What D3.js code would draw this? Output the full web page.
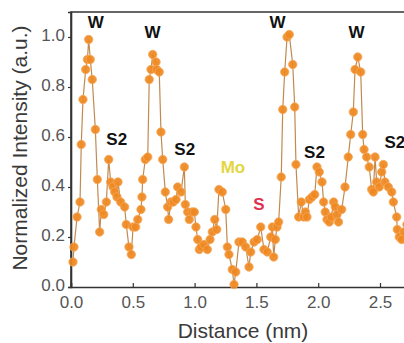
<!DOCTYPE html>
<html>
<head>
<meta charset="utf-8">
<script src="https://cdn.jsdelivr.net/npm/d3@7"></script>
<style>
  body { margin: 0; background: #fff; }
  svg { display: block; font-family: Arial, "Liberation Sans", sans-serif; }
</style>
</head>
<body>
<svg id="chart" width="404" height="343"></svg>
<script>
// line profile
var distance = [
  0.016, 0.024, 0.049, 0.073, 0.083, 0.097, 0.119, 0.133, 0.143, 0.156,
  0.172, 0.197, 0.213, 0.232, 0.245, 0.265, 0.286, 0.305, 0.321, 0.340,
  0.354, 0.372, 0.380, 0.402, 0.434, 0.447, 0.469, 0.488, 0.502, 0.523,
  0.540, 0.566, 0.574, 0.580, 0.601, 0.621, 0.633, 0.647, 0.661, 0.688,
  0.693, 0.714, 0.728, 0.742, 0.763, 0.782, 0.790, 0.809, 0.828, 0.850,
  0.863, 0.890, 0.917, 0.925, 0.944, 0.957, 0.979, 0.998, 1.011, 1.025,
  1.038, 1.052, 1.076, 1.103, 1.125, 1.143, 1.163, 1.179, 1.197, 1.224,
  1.252, 1.265, 1.278, 1.305, 1.319, 1.333, 1.359, 1.386, 1.413, 1.440,
  1.454, 1.481, 1.507, 1.535, 1.561, 1.588, 1.616, 1.629, 1.640, 1.653,
  1.667, 1.680, 1.701, 1.713, 1.729, 1.748, 1.766, 1.794, 1.810, 1.820,
  1.842, 1.863, 1.883, 1.896, 1.909, 1.928, 1.950, 1.972, 1.990, 2.009,
  2.031, 2.044, 2.057, 2.071, 2.090, 2.106, 2.125, 2.138, 2.152, 2.164,
  2.190, 2.217, 2.243, 2.263, 2.284, 2.298, 2.320, 2.344, 2.360, 2.371,
  2.392, 2.413, 2.433, 2.446, 2.460, 2.473, 2.494, 2.514, 2.527, 2.540,
  2.567, 2.595, 2.608, 2.635, 2.640, 2.656, 2.676, 2.694, 2.718
];
var intensity = [
  0.10, 0.16, 0.28, 0.34, 0.57, 0.75, 0.87, 0.91, 0.99, 0.91,
  0.83, 0.63, 0.43, 0.22, 0.31, 0.29, 0.34, 0.51, 0.42, 0.40,
  0.38, 0.36, 0.42, 0.34, 0.32, 0.25, 0.16, 0.13, 0.24, 0.24,
  0.27, 0.31, 0.36, 0.43, 0.51, 0.52, 0.83, 0.87, 0.93, 0.90,
  0.87, 0.86, 0.62, 0.51, 0.38, 0.32, 0.27, 0.34, 0.34, 0.35,
  0.40, 0.38, 0.48, 0.33, 0.30, 0.27, 0.30, 0.30, 0.24, 0.19,
  0.15, 0.16, 0.17, 0.15, 0.19, 0.22, 0.27, 0.23, 0.39, 0.38,
  0.31, 0.16, 0.13, 0.07, 0.01, 0.06, 0.18, 0.18, 0.16, 0.08,
  0.14, 0.18, 0.19, 0.24, 0.15, 0.14, 0.20, 0.24, 0.12, 0.19,
  0.24, 0.26, 0.44, 0.71, 0.86, 1.00, 1.01, 0.89, 0.72, 0.49,
  0.28, 0.34, 0.28, 0.30, 0.28, 0.35, 0.36, 0.37, 0.48, 0.46,
  0.42, 0.34, 0.30, 0.27, 0.26, 0.28, 0.34, 0.32, 0.29, 0.26,
  0.31, 0.40, 0.52, 0.61, 0.70, 0.87, 0.92, 0.86, 0.61, 0.55,
  0.52, 0.48, 0.39, 0.38, 0.52, 0.42, 0.40, 0.46, 0.49, 0.42,
  0.40, 0.38, 0.34, 0.28, 0.23, 0.20, 0.19, 0.22, 0.25
];

var xTicks = [0, 0.5, 1.0, 1.5, 2.0, 2.5];
var yTicks = [0, 0.2, 0.4, 0.6, 0.8, 1.0];

// peak annotations
var peakLabels = ["W", "W", "W", "W", "S2", "S2", "S2", "S2", "Mo", "S"];
var peakX = [0.20, 0.66, 1.67, 2.31, 0.37, 0.92, 1.97, 2.62, 1.31, 1.52];
var peakY = [1.06, 1.02, 1.06, 1.02, 0.59, 0.55, 0.54, 0.58, 0.48, 0.33];
var peakColors = ["#111", "#111", "#111", "#111", "#111", "#111", "#111", "#111", "#e4d640", "#e0304c"];

var svg = d3.select("#chart");
var margin = {left: 71, top: 12, bottom: 56};
var height = +svg.attr("height");

var x = d3.scaleLinear().domain([0, 2.8]).range([margin.left, margin.left + 2.8 * 123.6]);
var y = d3.scaleLinear().domain([0, 1.1]).range([height - margin.bottom, margin.top]);

var pts = distance.map((d, i) => ({d: d, v: intensity[i]}));

// frame (top line, right edge falls outside the picture)
svg.append("path")
  .attr("d", `M${x(0)},${y(0)}V${y(1.1)}H${x(2.8)}`)
  .attr("fill", "none")
  .attr("stroke", "#333")
  .attr("stroke-width", 1.6);

// x axis, ticks point inward
var xAxis = svg.append("g")
  .attr("transform", `translate(0,${y(0)})`)
  .call(d3.axisBottom(x).tickValues(xTicks).tickSize(-4).tickPadding(9).tickFormat(d3.format(".1f")));
xAxis.select(".domain").attr("stroke", "#333").attr("stroke-width", 1.6);
xAxis.selectAll(".tick line").attr("stroke", "#333").attr("stroke-width", 1.2);
xAxis.selectAll("text").attr("font-size", 17).attr("fill", "#555");

// y axis
var yAxis = svg.append("g")
  .attr("transform", `translate(${x(0)},0)`)
  .call(d3.axisLeft(y).tickValues(yTicks).tickSize(3).tickPadding(3).tickFormat(d3.format(".1f")));
yAxis.select(".domain").attr("stroke", "#333").attr("stroke-width", 1.6);
yAxis.selectAll(".tick line").attr("stroke", "#333").attr("stroke-width", 1.2);
yAxis.selectAll("text").attr("font-size", 17).attr("fill", "#555").attr("dy", "0.2em");

// axis titles
svg.append("text")
  .attr("x", 243).attr("y", 338)
  .attr("text-anchor", "middle")
  .attr("font-size", 21)
  .attr("fill", "#3a3a3a")
  .text("Distance (nm)");

svg.append("text")
  .attr("transform", `translate(27,${(y(0) + 5) / 2 + 2}) rotate(-90)`)
  .attr("text-anchor", "middle")
  .attr("font-size", 21)
  .attr("fill", "#3a3a3a")
  .text("Normalized Intensity (a.u.)");

// profile line + markers
var line = d3.line().x(p => x(p.d)).y(p => y(p.v));
svg.append("path")
  .datum(pts)
  .attr("d", line)
  .attr("fill", "none")
  .attr("stroke", "#c08a50")
  .attr("stroke-width", 1.2);

svg.append("g")
  .selectAll("circle")
  .data(pts)
  .enter().append("circle")
    .attr("cx", p => x(p.d))
    .attr("cy", p => y(p.v))
    .attr("r", 4.2)
    .attr("fill", "#ef8820")
    .attr("fill-opacity", 0.92)
    .attr("stroke", "#f6a85a")
    .attr("stroke-width", 0.8);

// labels on the peaks
svg.append("g")
  .selectAll("text")
  .data(peakLabels)
  .enter().append("text")
    .attr("x", (t, i) => x(peakX[i]))
    .attr("y", (t, i) => y(peakY[i]))
    .attr("text-anchor", "middle")
    .attr("dy", "0.35em")
    .attr("font-size", 17)
    .attr("font-weight", "bold")
    .attr("fill", (t, i) => peakColors[i])
    .text(t => t);
</script>
</body>
</html>
